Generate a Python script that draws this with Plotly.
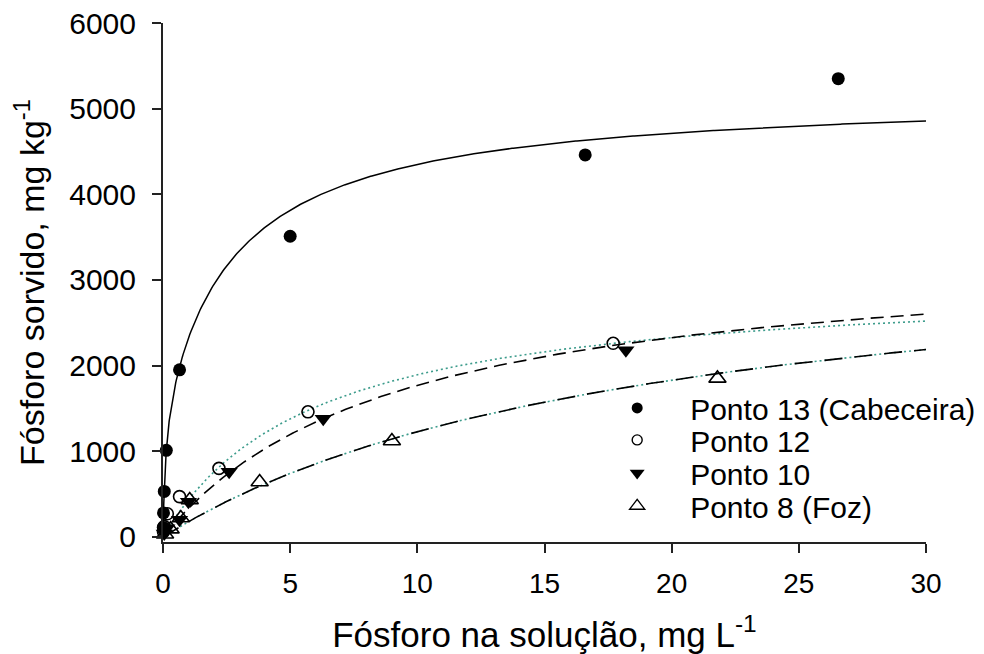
import numpy as np
import plotly.graph_objects as go

# Observed sorption data (P in solution, mg/L ; P sorbed, mg/kg)
x13 = [0.01, 0.02, 0.05, 0.13, 0.65, 5.0, 16.6, 26.55]
y13 = [110, 280, 530, 1010, 1950, 3510, 4460, 5350]
x12 = [0.02, 0.05, 0.17, 0.65, 2.2, 5.7, 17.7]
y12 = [60, 120, 270, 470, 800, 1460, 2260]
x10 = [0.05, 0.15, 0.65, 1.0, 2.6, 6.3, 18.2]
y10 = [40, 100, 200, 410, 760, 1380, 2180]
x8 = [0.08, 0.3, 0.7, 1.05, 3.8, 9.0, 21.8]
y8 = [30, 90, 220, 430, 640, 1120, 1850]

# Langmuir fit parameters, one entry per sorption site: Qmax (mg/kg), KL (L/mg)
qmax = {"13": [1500, 3680], "12": [3020], "10": [3400], "8": [3590]}
kl = {"13": [10.0, 0.351], "12": [0.168], "10": [0.1085], "8": [0.052]}

names = {"13": "Ponto 13 (Cabeceira)", "12": "Ponto 12", "10": "Ponto 10", "8": "Ponto 8 (Foz)"}

xticks = [0, 5, 10, 15, 20, 25, 30]
yticks = [0, 1000, 2000, 3000, 4000, 5000, 6000]

c = np.unique(np.concatenate([np.geomspace(1e-4, 1, 200), np.linspace(0, 30, 600)]))


def langmuir(key):
    return sum(q * k * c / (1 + k * c) for q, k in zip(qmax[key], kl[key]))


FONT = "Liberation Sans, Arial, sans-serif"
TEAL = "#3d9c8c"

fig = go.Figure()

# fitted curves
fig.add_trace(go.Scatter(x=c, y=langmuir("13"), mode="lines",
                         line=dict(color="black", width=1.5), showlegend=False, hoverinfo="skip"))
fig.add_trace(go.Scatter(x=c, y=langmuir("12"), mode="lines",
                         line=dict(color=TEAL, width=1.6, dash="2px,3px"), showlegend=False, hoverinfo="skip"))
fig.add_trace(go.Scatter(x=c, y=langmuir("10"), mode="lines",
                         line=dict(color="black", width=1.6, dash="13px,7px"), showlegend=False, hoverinfo="skip"))
fig.add_trace(go.Scatter(x=c, y=langmuir("8"), mode="lines",
                         line=dict(color=TEAL, width=1.6, dash="2px,3px"), showlegend=False, hoverinfo="skip"))
fig.add_trace(go.Scatter(x=c, y=langmuir("8"), mode="lines",
                         line=dict(color="black", width=1.6, dash="18px,12px"), showlegend=False, hoverinfo="skip"))

markers = {
    "13": dict(symbol="circle", color="black", size=13, line=dict(width=0)),
    "12": dict(symbol="circle-open", color="black", size=12, line=dict(width=1.6)),
    "10": dict(symbol="triangle-down", color="black", size=15, line=dict(width=0)),
    "8": dict(symbol="triangle-up-open", color="black", size=15, line=dict(width=1.6)),
}
legend_markers = {
    "13": dict(symbol="circle", color="black", size=11, line=dict(width=0)),
    "12": dict(symbol="circle-open", color="black", size=10, line=dict(width=1.4)),
    "10": dict(symbol="triangle-down", color="black", size=13, line=dict(width=0)),
    "8": dict(symbol="triangle-up-open", color="black", size=13, line=dict(width=1.4)),
}
data = {"13": (x13, y13), "12": (x12, y12), "10": (x10, y10), "8": (x8, y8)}
order = ["13", "12", "10", "8"]

for key in order:
    xs, ys = data[key]
    fig.add_trace(go.Scatter(x=xs, y=ys, mode="markers", marker=markers[key],
                             showlegend=False, cliponaxis=False, name=names[key]))

# one legend box per series so the rows can be spaced tightly
legend_ids = ["legend", "legend2", "legend3", "legend4"]
legend_rows = [0.2583, 0.1967, 0.1331, 0.0695]
for key, lid in zip(order, legend_ids):
    fig.add_trace(go.Scatter(x=[None], y=[None], mode="markers", marker=legend_markers[key],
                             name=names[key], legend=lid, showlegend=True))

legend_style = dict(x=0.552, xanchor="left", yanchor="middle", bgcolor="rgba(0,0,0,0)",
                    font=dict(size=30, family=FONT, color="black"), itemwidth=96,
                    borderwidth=0)
for lid, yrow in zip(legend_ids, legend_rows):
    fig.update_layout({lid: dict(legend_style, y=yrow)})

fig.update_layout(
    width=984, height=654,
    margin=dict(l=163, r=58, t=23, b=112, autoexpand=False),
    paper_bgcolor="white", plot_bgcolor="white",
    font=dict(family=FONT, size=28, color="black"),
    xaxis=dict(range=[0, 30], tickvals=xticks, ticks="outside", ticklen=9, tickwidth=1.5,
               tickcolor="#222", showline=True, linecolor="#222", linewidth=2,
               showgrid=False, zeroline=False, ticklabelstandoff=6,
               tickfont=dict(size=28),
               title=dict(text="Fósforo na soluçlão, mg L<sup>-1</sup>", font=dict(size=35), standoff=27)),
    yaxis=dict(range=[-60, 6000], tickvals=yticks, ticks="outside", ticklen=9, tickwidth=1.5,
               tickcolor="#222", showline=True, linecolor="#222", linewidth=2,
               showgrid=False, zeroline=False, ticklabelstandoff=10,
               tickfont=dict(size=30),
               title=dict(text="Fósforo sorvido, mg kg<sup>-1</sup>", font=dict(size=34), standoff=14)),
)

fig.write_html("out.html")
